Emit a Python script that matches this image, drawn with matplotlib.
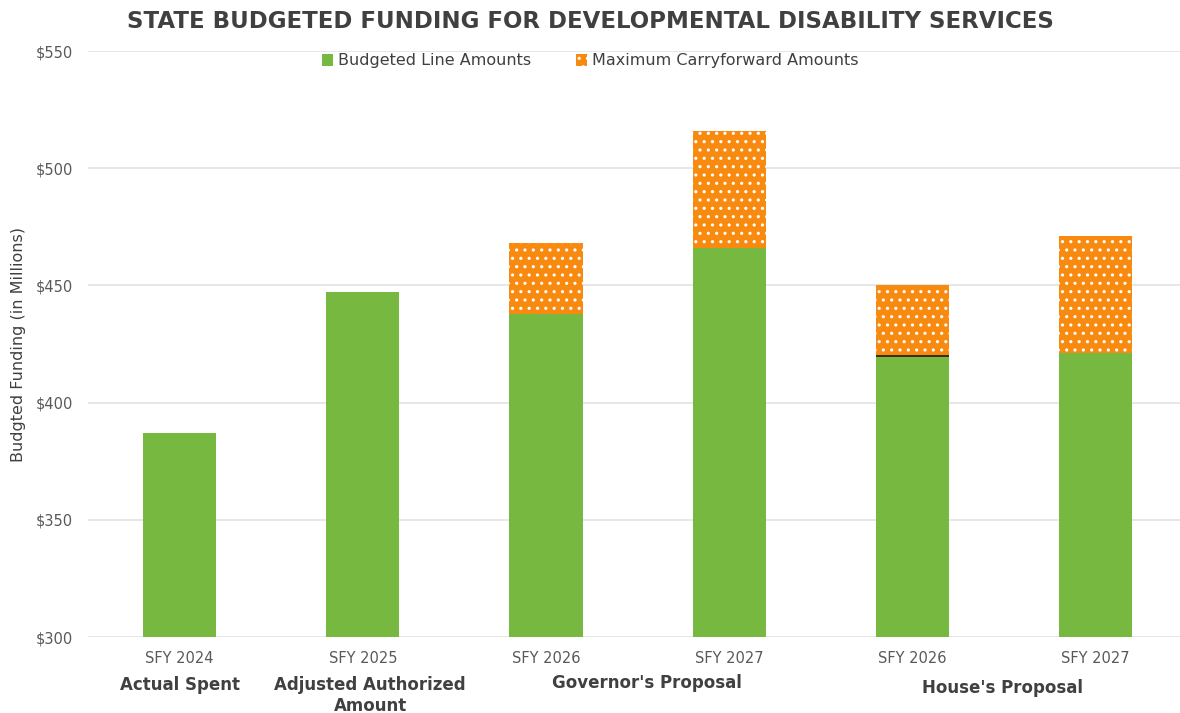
import matplotlib.pyplot as plt
import matplotlib.transforms as mtransforms
import numpy as np

plt.rcParams["font.family"] = ["DejaVu Sans"]
plt.rcParams["hatch.color"] = "white"
plt.rcParams["hatch.linewidth"] = 1.1

years = ["SFY 2024", "SFY 2025", "SFY 2026", "SFY 2027", "SFY 2026", "SFY 2027"]
budgeted = [387, 447, 438, 466, 420, 421]
carryforward = [0, 0, 30, 50, 30, 50]
yticks = [300, 350, 400, 450, 500, 550]

GREEN = "#76b840"
ORANGE = "#f98a10"
TEXT = "#404040"
GRAY = "#595959"

fig = plt.figure(figsize=(11.8, 7.13), dpi=100)
ax = fig.add_axes([88 / 1180, 1 - 637 / 713, 1 - 88 / 1180, (637 - 51) / 713])

x = np.arange(len(years))
width = 0.4
ax.bar(x, budgeted, width, bottom=0, color=GREEN, label="Budgeted Line Amounts", zorder=2)
ax.bar(x, carryforward, width, bottom=budgeted, color=ORANGE, edgecolor="white",
       linewidth=0, hatch="..", label="Maximum Carryforward Amounts", zorder=2)
# dark seam on the house 2026 bar
ax.hlines(budgeted[4], x[4] - width / 2, x[4] + width / 2, color="#3a2a10", lw=1.4, zorder=3)

ax.set_ylim(300, 550)
ax.set_xlim(-0.5, 5.46)
ax.set_yticks(yticks)
ax.set_yticklabels(["${}".format(v) for v in yticks])
ax.set_xticks(x)
ax.set_xticklabels(years)
ax.tick_params(axis="both", length=0, colors=GRAY, labelsize=10.5)
ax.tick_params(axis="x", pad=10)
ax.tick_params(axis="y", pad=11)
ax.yaxis.grid(True, color="#e3e3e3", lw=1.2, zorder=0)
for s in ax.spines.values():
    s.set_visible(False)

ax.set_ylabel("Budgted Funding (in Millions)", fontsize=11.5, color=TEXT)
ax.yaxis.set_label_coords(-0.057, 0.5)

fig.text(0.5, 1 - 22 / 713, "STATE BUDGETED FUNDING FOR DEVELOPMENTAL DISABILITY SERVICES",
         ha="center", va="center", fontsize=16.5, fontweight="bold", color=TEXT)

leg = ax.legend(loc="center", bbox_to_anchor=(0.5, 1 - 61 / 713), bbox_transform=fig.transFigure,
                ncol=2, frameon=False, fontsize=11.5, handlelength=0.7, handleheight=0.7,
                handletextpad=0.3, columnspacing=2.8)
for t in leg.get_texts():
    t.set_color(TEXT)

# group captions under the year labels
trans = mtransforms.blended_transform_factory(ax.transData, fig.transFigure)
groups = [(0, 685, "Actual Spent"), (1.04, 685, "Adjusted Authorized"), (1.04, 706, "Amount"),
          (2.55, 683, "Governor's Proposal"), (4.49, 688, "House's Proposal")]
for gx, gy, label in groups:
    ax.text(gx, 1 - gy / 713, label, transform=trans, ha="center", va="center",
            fontsize=12, fontweight="bold", color=TEXT)

fig.savefig("out.png", dpi=100)
